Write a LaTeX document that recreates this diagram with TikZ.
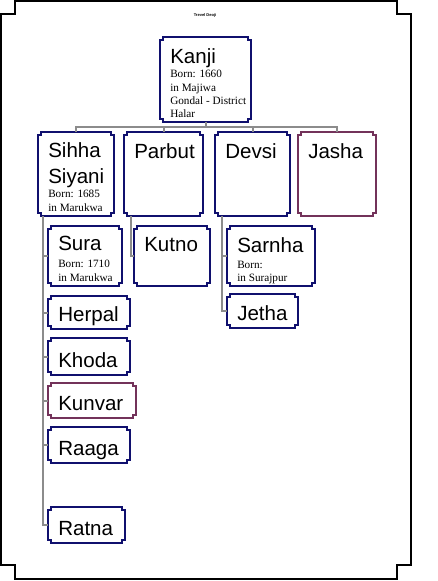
\documentclass[tikz,border=0pt]{standalone}
\usepackage{fontspec}
\setmainfont{Liberation Serif}
\newfontfamily\namefont{Liberation Sans}

\definecolor{boxblue}{RGB}{16,16,110}
\definecolor{boxplum}{RGB}{115,50,90}
\definecolor{linkgray}{RGB}{140,140,140}

% notched outline round a person box: node, colour
\newcommand\notchframe[2]{%
  \draw[#2, line width=1.5pt]
    ([xshift=2.25pt]#1.north west) -- ([xshift=-2.25pt]#1.north east)
    -- ++(0,3) -- ++(3,0) -- ([yshift=2.25pt]#1.south east)
    -- ++(-3,0) -- ++(0,3) -- ([xshift=2.25pt]#1.south west)
    -- ++(0,-3) -- ++(-3,0) -- ([yshift=-2.25pt]#1.north west)
    -- ++(3,0) -- cycle;}

\tikzset{
  person/.style={anchor=north west, inner sep=0pt, outer sep=0pt},
  boxsize/.style 2 args={minimum width=#1*0.75pt, minimum height=#2*0.75pt},
  nametext/.style={font=\namefont\fontsize{15.4}{19.5}\selectfont, inner sep=0pt, align=left},
  borntext/.style={font=\fontsize{8.4}{10}\selectfont, inner sep=0pt, align=left, anchor=north west},
  famline/.style={draw=linkgray, line width=1.5pt}
}

\begin{document}
\begin{tikzpicture}[x=0.75pt, y=-0.75pt]
\useasboundingbox (0,0) rectangle (438,581);

  % page frame
  \draw[line width=2.2pt] (15,1) -- (397,1) -- (397,14) -- (411,14) -- (411,565)
    -- (397,565) -- (397,579) -- (15,579) -- (15,565) -- (1,565) -- (1,14)
    -- (15,14) -- cycle;
  \node[font=\namefont\bfseries\fontsize{3}{3.5}\selectfont] (title) at (205,15) {Trevel Deoji};

  % boxes
  \node[person, boxsize={91}{85}] (kanji)  at (160,37)  {};
  \node[person, boxsize={76}{84}] (sihha)  at (38,132)  {};
  \node[person, boxsize={79}{84}] (parbut) at (124,132) {};
  \node[person, boxsize={75}{84}] (devsi)  at (215,132) {};
  \node[person, boxsize={78}{84}] (jasha)  at (298,132) {};
  \node[person, boxsize={74}{60}] (sura)   at (48,226)  {};
  \node[person, boxsize={76}{60}] (kutno)  at (134,226) {};
  \node[person, boxsize={88}{60}] (sarnha) at (227,226) {};
  \node[person, boxsize={71}{34}] (jetha)  at (227,294) {};
  \node[person, boxsize={82}{33}] (herpal) at (48,296)  {};
  \node[person, boxsize={82}{37}] (khoda)  at (48,338)  {};
  \node[person, boxsize={88}{35}] (kunvar) at (48,383)  {};
  \node[person, boxsize={82}{36}] (raaga)  at (48,427)  {};
  \node[person, boxsize={77}{36}] (ratna)  at (48,507)  {};

  \foreach \p/\c in {kanji/boxblue, sihha/boxblue, parbut/boxblue, devsi/boxblue,
      jasha/boxplum, sura/boxblue, kutno/boxblue, sarnha/boxblue, jetha/boxblue,
      herpal/boxblue, khoda/boxblue, kunvar/boxplum, raaga/boxblue, ratna/boxblue}
    \notchframe{\p}{\c};

  % names
  \node[nametext, anchor=north west] (kanji-n)  at ([shift={(10,11)}]kanji.north west)  {Kanji};
  \node[nametext, anchor=north west] (sihha-n)  at ([shift={(10,10)}]sihha.north west)  {Sihha\\Siyani};
  \node[nametext, anchor=north west] (parbut-n) at ([shift={(10,11)}]parbut.north west) {Parbut};
  \node[nametext, anchor=north west] (devsi-n)  at ([shift={(10,11)}]devsi.north west)  {Devsi};
  \node[nametext, anchor=north west] (jasha-n)  at ([shift={(10,11)}]jasha.north west)  {Jasha};
  \node[nametext, anchor=north west] (sura-n)   at ([shift={(10,10)}]sura.north west)   {Sura};
  \node[nametext, anchor=north west] (kutno-n)  at ([shift={(10,11)}]kutno.north west)  {Kutno};
  \node[nametext, anchor=north west] (sarnha-n) at ([shift={(10,11)}]sarnha.north west) {Sarnha};
  \node[nametext, anchor=base west] (jetha-n)  at ([shift={(10,-8)}]jetha.south west)  {Jetha};
  \node[nametext, anchor=base west] (herpal-n) at ([shift={(10,-8)}]herpal.south west) {Herpal};
  \node[nametext, anchor=base west] (khoda-n)  at ([shift={(10,-8)}]khoda.south west)  {Khoda};
  \node[nametext, anchor=base west] (kunvar-n) at ([shift={(10,-8)}]kunvar.south west) {Kunvar};
  \node[nametext, anchor=base west] (raaga-n)  at ([shift={(10,-8)}]raaga.south west)  {Raaga};
  \node[nametext, anchor=base west] (ratna-n)  at ([shift={(10,-8)}]ratna.south west)  {Ratna};

  % birth notes
  \node[borntext] (kanji-b)  at ([shift={(10,33)}]kanji.north west)  {Born: 1660\\in Majiwa\\Gondal - District\\Halar};
  \node[borntext] (sihha-b)  at ([shift={(10,58)}]sihha.north west)  {Born: 1685\\in Marukwa};
  \node[borntext] (sura-b)   at ([shift={(10,34)}]sura.north west)   {Born: 1710\\in Marukwa};
  \node[borntext] (sarnha-b) at ([shift={(10,35)}]sarnha.north west) {Born:\\in Surajpur};

  % connectors
  \foreach \c in {sihha,parbut,devsi,jasha}
    \draw[famline] (kanji.south) -- ++(0,5) -| (\c.north);
  \coordinate (sihha-trunk)  at ([xshift=3.75pt]sihha.south west);
  \coordinate (parbut-trunk) at ([xshift=5.25pt]parbut.south west);
  \coordinate (devsi-trunk)  at ([xshift=5.25pt]devsi.south west);
  \foreach \c in {sura,herpal,khoda,kunvar,raaga,ratna}
    \draw[famline] (sihha-trunk) |- (\c.west);
  \draw[famline] (parbut-trunk) |- (kutno.west);
  \foreach \c in {sarnha,jetha}
    \draw[famline] (devsi-trunk) |- (\c.west);
\end{tikzpicture}
\end{document}
